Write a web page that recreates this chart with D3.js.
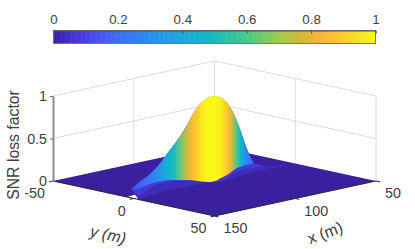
<!DOCTYPE html>
<html>
<head>
<meta charset="utf-8">
<script src="https://cdn.jsdelivr.net/npm/d3@7"></script>
<style>
  html, body { margin: 0; background: #fff; }
  svg { display: block; }
  text { font-family: "Liberation Sans", Arial, sans-serif; fill: #404040; }
</style>
</head>
<body>
<div id="chart"></div>
<script>
var xTicks = [50, 100, 150],
    yTicks = [-50, 0, 50],
    zTicks = [0, 0.5, 1],
    barTicks = [0, 0.2, 0.4, 0.6, 0.8, 1];

// colormap
var mapPos = [0, 0.1, 0.15, 0.2, 0.3, 0.4, 0.475, 0.6, 0.71, 0.77, 0.82, 0.87, 0.93, 1],
    mapCol = ['#3b1fa5', '#4a40e8', '#4a55f5', '#3a6ffa', '#2a8cf0', '#1aa9dd', '#0fb8c8',
              '#45ca88', '#a9c84a', '#d4b63a', '#f2b53a', '#ffc230', '#fbd825', '#f8fa15'];

// peak, sampled across the diagonal of the floor (cross = y, x = 100 - y)
var peakCross = [-25.5, -23.4, -20.3, -17.2, -14.7, -12.5, -10.4, -8.5, -7, -5.4, -3.9, -1.7, 0.15, 2, 3.9, 5.4, 6.7, 7.9, 9.1, 10, 11.3, 12.2],
    peakZ = [0, 0, 0.07, 0.19, 0.32, 0.43, 0.54, 0.66, 0.77, 0.86, 0.93, 0.985, 1, 0.985, 0.92, 0.835, 0.73, 0.61, 0.48, 0.38, 0.27, 0.21],
    peakDepth = [10, 2, 0, 0, 0, 0, 0, 0, 0, 0, 0, 0, 0, 0, 0, 0, 0, 0, 0, 0, 0, 0],
    baseDepth = [12.9, 11, 5, 0.7, -1, -1.4, -1.4, -1.4, -1, 0, 0.7, 1.4, 0, -4.3, -8.6, -13.6, -18, -20, -22, -23, -24, -25.7],
    peakColor = [0.12, 0.17, 0.22, 0.32, 0.43, 0.5, 0.65, 0.76, 0.84, 0.9, 0.96, 1, 1, 0.98, 0.88, 0.78, 0.62, 0.48, 0.36, 0.27, 0.2, 0.14];

// the two skirts in front of the peak
var bandCross = [-25.5, -23.4, -19.4, -14.1, -7.9, -3.3, 2, 7, 12.2, 16.3],
    blueDepth = [12.9, 20.7, 8.6, 1.4, 0, 1.4, 0, -12.9, -18.6, -20],
    purpleCross = [-25.5, -23.4, -19.4, -14.1, -7.9, -3.3, 2, 7, 12.2, 16.3, 23.7],
    purpleDepth = [14, 24.3, 20, 12.9, 8.6, 3.6, 1.4, -5.7, -12.9, -16.4, -25.7];

var notchCross = [-26.8, -24.3, -23.7],
    notchDepth = [22, 19.3, 26.4];

var width = 415, height = 249;

var svg = d3.select('#chart').append('svg')
    .attr('width', width)
    .attr('height', height);

var color = d3.scaleLinear().domain(mapPos).range(mapCol);

// colorbar
var barX = d3.scaleLinear().domain([0, 1]).range([53.5, 375.5]),
    barTop = 30.5, barH = 13;

svg.append('g').selectAll('rect')
    .data(d3.range(0, 128))
  .enter().append('rect')
    .attr('x', function(d) { return barX(d / 128); })
    .attr('y', barTop)
    .attr('width', barX(1 / 128) - barX(0) + 0.5)
    .attr('height', barH)
    .attr('fill', function(d) { return color((d + 0.5) / 128); });

svg.append('rect')
    .attr('x', barX(0)).attr('y', barTop)
    .attr('width', barX(1) - barX(0)).attr('height', barH)
    .attr('fill', 'none').attr('stroke', '#777');

var barAxis = svg.append('g')
    .attr('transform', 'translate(0,' + barTop + ')')
    .call(d3.axisTop(barX).tickValues(barTicks).tickSize(-3).tickFormat(d3.format('')));
barAxis.select('.domain').attr('stroke', '#555');
barAxis.selectAll('line').attr('stroke', '#555');
barAxis.selectAll('text')
    .attr('y', -7)
    .style('font-size', '13.3px');

// 3d projection, front corner is x=150, y=50
var originX = 214.5, originY = 216;
var xToPx = d3.scaleLinear().domain([150, 50]).range([0, 161.5]),
    yToPx = d3.scaleLinear().domain([50, -50]).range([0, -161.5]),
    xToPy = d3.scaleLinear().domain([150, 50]).range([0, -35]),
    yToPy = d3.scaleLinear().domain([50, -50]).range([0, -35]),
    zToPy = d3.scaleLinear().domain([0, 1]).range([0, -85]);

function project(x, y, z) {
    return [originX + xToPx(x) + yToPx(y), originY + xToPy(x) + yToPy(y) + zToPy(z)];
}
// floor point given by position across the diagonal and depth along the other one
function across(c, depth, z) {
    return project(100 - c + depth, c + depth, z);
}

var line = d3.line();
var smooth = d3.line().curve(d3.curveCatmullRom);

// walls
var grid = svg.append('g').attr('stroke', '#dcdcdc').attr('fill', 'none');
zTicks.slice(1).forEach(function(z) {
    grid.append('path').attr('d', line([project(150, -50, z), project(50, -50, z), project(50, 50, z)]));
});
xTicks.slice(0, 2).forEach(function(x) {
    grid.append('path').attr('d', line([project(x, -50, 0), project(x, -50, 1)]));
});
yTicks.slice(1).forEach(function(y) {
    grid.append('path').attr('d', line([project(50, y, 0), project(50, y, 1)]));
});

// floor
svg.append('path')
    .attr('d', line([project(150, -50, 0), project(150, 50, 0), project(50, 50, 0), project(50, -50, 0)]) + 'Z')
    .attr('fill', '#3a1f9f');

svg.append('path')
    .attr('d', line(notchCross.map(function(c, i) { return across(c, notchDepth[i], 0); })) + 'Z')
    .attr('fill', '#fff');

// surface pieces, peak goes last
var topEdge = peakCross.map(function(c, i) { return across(c, peakDepth[i], peakZ[i]); }),
    baseEdge = peakCross.map(function(c, i) { return across(c, baseDepth[i], 0); }),
    blueEdge = bandCross.map(function(c, i) { return across(c, blueDepth[i], 0); }),
    purpleEdge = purpleCross.map(function(c, i) { return across(c, purpleDepth[i], 0); });

svg.append('path')
    .attr('d', smooth(purpleEdge) + line(blueEdge.slice().reverse()).replace('M', 'L') + 'Z')
    .attr('fill', '#3e2cb8');

svg.append('path')
    .attr('d', smooth(blueEdge) + line(topEdge.slice().reverse()).replace('M', 'L') + 'Z')
    .attr('fill', '#4338d8');

var grad = svg.append('defs').append('linearGradient')
    .attr('id', 'peakFill')
    .attr('gradientUnits', 'userSpaceOnUse')
    .attr('x1', topEdge[0][0]).attr('x2', topEdge[topEdge.length - 1][0])
    .attr('y1', 0).attr('y2', 0);
var span = topEdge[topEdge.length - 1][0] - topEdge[0][0];
grad.selectAll('stop')
    .data(peakColor)
  .enter().append('stop')
    .attr('offset', function(d, i) { return (topEdge[i][0] - topEdge[0][0]) / span; })
    .attr('stop-color', function(d) { return color(d); });

svg.append('path')
    .attr('d', smooth(topEdge) + smooth(baseEdge.slice().reverse()).replace('M', 'L') + 'Z')
    .attr('fill', 'url(#peakFill)');

// front edges and ticks
var edges = svg.append('g').attr('stroke', '#262626').attr('fill', 'none');
edges.append('path').attr('d', line([project(150, -50, 0), project(150, 50, 0), project(50, 50, 0)]));
xTicks.forEach(function(x) {
    edges.append('path').attr('d', line([project(x, 50, 0), project(x, 52.5, 0)]));
});
yTicks.forEach(function(y) {
    edges.append('path').attr('d', line([project(150, y, 0), project(152.5, y, 0)]));
});

// z axis
var zAxis = svg.append('g')
    .attr('transform', 'translate(' + project(150, -50, 0)[0] + ',' + project(150, -50, 0)[1] + ')')
    .call(d3.axisLeft(zToPy).tickValues(zTicks).tickSize(3).tickSizeOuter(0).tickFormat(d3.format('')));
zAxis.select('.domain').attr('stroke', '#8a8a8a').attr('stroke-width', 2);
zAxis.selectAll('line').attr('stroke', '#666');
zAxis.selectAll('text').attr('x', -6).style('font-size', '14.3px');

// x and y tick labels
yTicks.forEach(function(y) {
    var p = project(150, y, 0);
    svg.append('text').attr('x', p[0] - 8).attr('y', p[1] + 17)
        .attr('text-anchor', 'end').style('font-size', '14.3px').text(y);
});
xTicks.forEach(function(x) {
    var p = project(x, 50, 0);
    svg.append('text').attr('x', p[0] + 9).attr('y', p[1] + 17)
        .attr('text-anchor', 'start').style('font-size', '14.3px').text(x);
});

// axis titles
svg.append('text')
    .attr('transform', 'translate(19,145)rotate(-90)')
    .attr('text-anchor', 'middle')
    .style('font-size', '15.8px')
    .text('SNR loss factor');

svg.append('text')
    .attr('transform', 'translate(107,240)rotate(12)')
    .attr('text-anchor', 'middle')
    .style('font-size', '16px')
    .style('font-style', 'italic')
    .text('y (m)');

svg.append('text')
    .attr('transform', 'translate(327,238)rotate(-20)')
    .attr('text-anchor', 'middle')
    .style('font-size', '16px')
    .text('x (m)');
</script>
</body>
</html>
